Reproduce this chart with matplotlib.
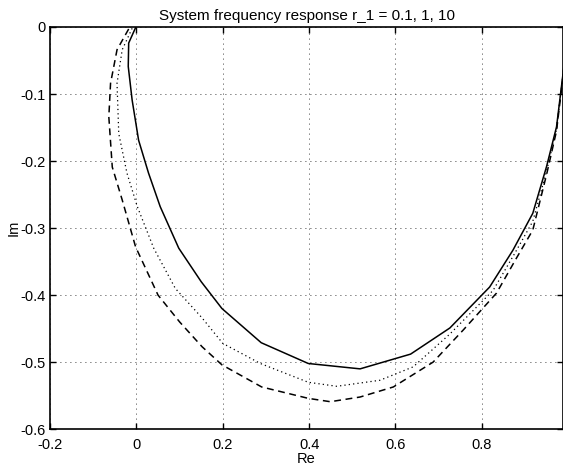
import matplotlib
matplotlib.use("Agg")
import matplotlib.pyplot as plt

# Nyquist traces (Re, Im) for the three r_1 values
re_r01 = [-0.002, -0.018, -0.019, -0.010, 0.005, 0.028, 0.055, 0.098, 0.150, 0.198,
          0.289, 0.398, 0.518, 0.635, 0.726, 0.818, 0.872, 0.918, 0.950, 0.973, 0.988, 1.000]
im_r01 = [-0.001, -0.024, -0.059, -0.109, -0.169, -0.218, -0.268, -0.330, -0.380, -0.420,
          -0.471, -0.502, -0.510, -0.488, -0.449, -0.388, -0.333, -0.278, -0.208, -0.149, -0.070, 0.000]

re_r1 = [-0.010, -0.033, -0.045, -0.041, -0.022, 0.002, 0.040, 0.090, 0.152, 0.200,
         0.287, 0.398, 0.464, 0.564, 0.641, 0.726, 0.826, 0.876, 0.918, 0.950, 0.973, 0.988, 1.000]
im_r1 = [-0.002, -0.034, -0.084, -0.159, -0.218, -0.268, -0.330, -0.390, -0.434, -0.472,
         -0.502, -0.530, -0.536, -0.527, -0.507, -0.458, -0.393, -0.338, -0.290, -0.215, -0.152, -0.072, 0.000]

re_r10 = [-0.018, -0.045, -0.060, -0.064, -0.056, -0.033, -0.002, 0.050, 0.100, 0.152,
          0.198, 0.290, 0.398, 0.449, 0.518, 0.595, 0.687, 0.757, 0.834, 0.880, 0.918, 0.950, 0.973, 0.988, 1.000]
im_r10 = [-0.003, -0.034, -0.084, -0.134, -0.209, -0.258, -0.328, -0.400, -0.440, -0.477,
          -0.504, -0.537, -0.554, -0.559, -0.552, -0.537, -0.500, -0.452, -0.397, -0.345, -0.303, -0.220, -0.155, -0.074, 0.000]

x_ticks = [-0.2, 0, 0.2, 0.4, 0.6, 0.8]
x_labels = ["-0.2", "0", "0.2", "0.4", "0.6", "0.8"]
y_ticks = [0, -0.1, -0.2, -0.3, -0.4, -0.5, -0.6]
y_labels = ["0", "-0.1", "-0.2", "-0.3", "-0.4", "-0.5", "-0.6"]

plt.rcParams["font.family"] = ["Liberation Sans", "DejaVu Sans"]

fig = plt.figure(figsize=(5.63, 4.65), dpi=100)
ax = fig.add_axes([0.089, 0.077, 0.911, 0.865])

ax.plot(re_r01, im_r01, color="black", linestyle="-", linewidth=1.1)
ax.plot(re_r1, im_r1, color="black", linestyle=(0, (1, 2.5)), linewidth=0.9)
ax.plot(re_r10, im_r10, color="black", linestyle=(0, (4.5, 3)), linewidth=1.1)

ax.set_xlim(-0.2, 0.988)
ax.set_ylim(-0.6, 0)
ax.set_xticks(x_ticks)
ax.set_xticklabels(x_labels)
ax.set_yticks(y_ticks)
ax.set_yticklabels(y_labels)

ax.grid(True, color="black", linestyle=(0, (1, 5)), linewidth=0.6)
ax.tick_params(direction="in", length=4, width=1, labelsize=10.5,
               top=True, right=True)
ax.tick_params(axis="x", pad=6)
ax.tick_params(axis="y", pad=3)
for sp in ax.spines.values():
    sp.set_linewidth(1.2)

ax.set_title("System frequency response r_1 = 0.1, 1, 10", fontsize=11, pad=5)
ax.set_xlabel("Re", fontsize=10.5, labelpad=0)
ax.set_ylabel("Im", fontsize=10.5, labelpad=0)

fig.savefig("out.png", dpi=100)
